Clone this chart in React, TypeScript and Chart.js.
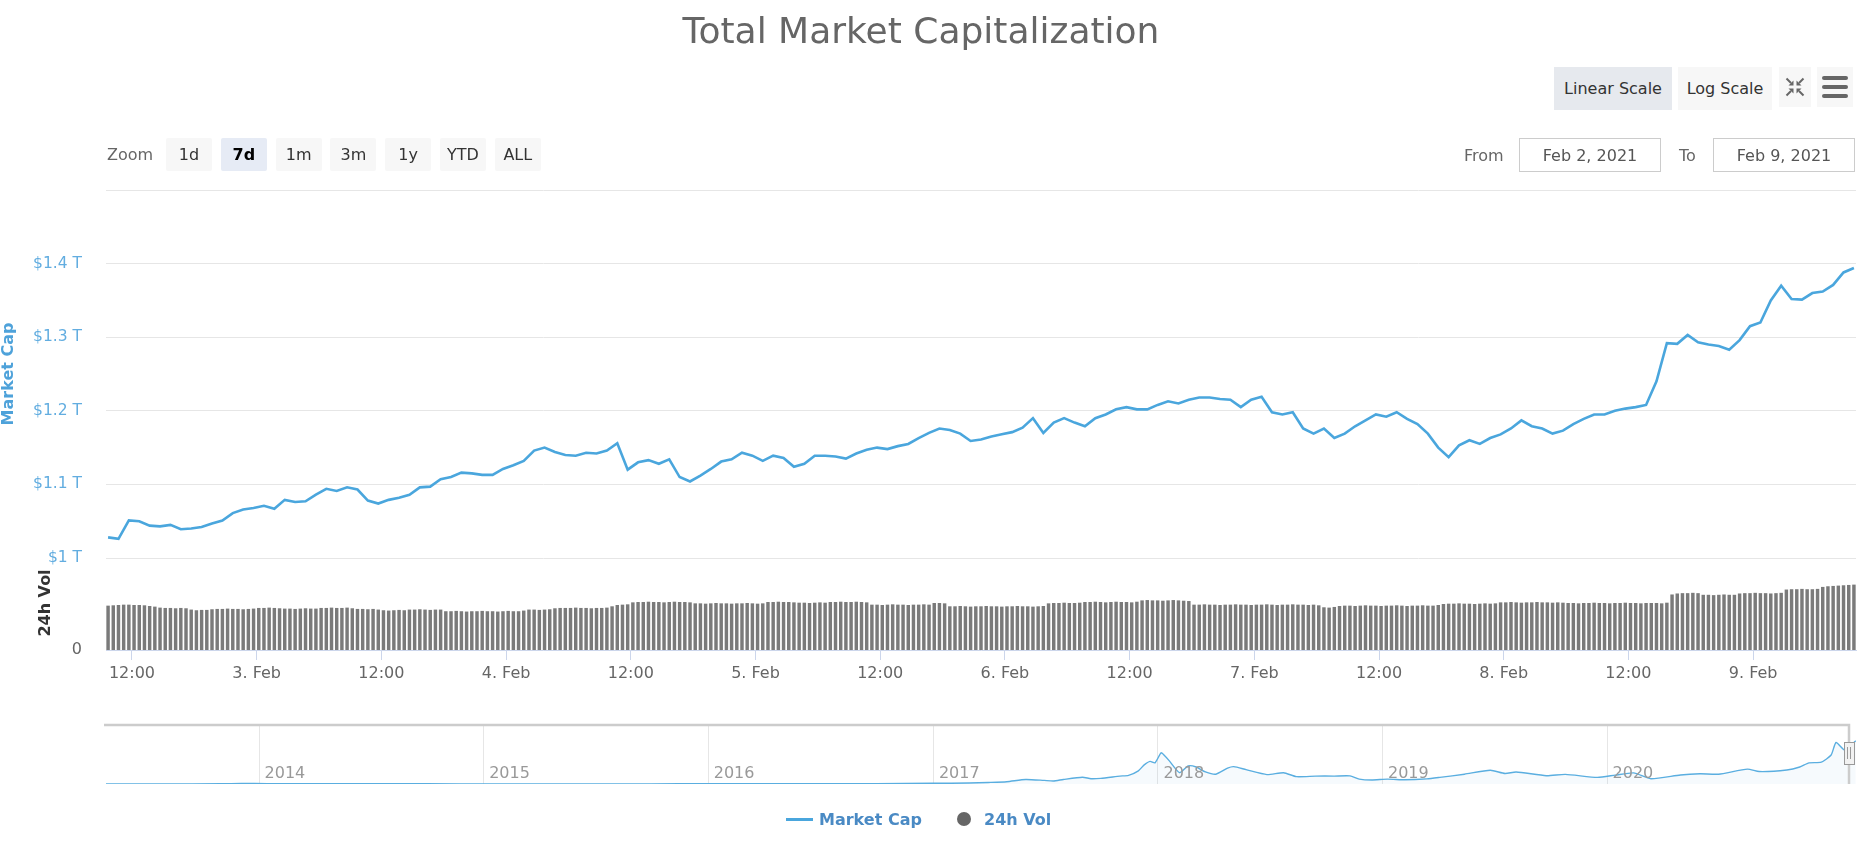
import React, { useEffect, useRef } from "react";
import { Chart, registerables } from "chart.js";

Chart.register(...registerables);

const FONT = "'DejaVu Sans', Verdana, 'Liberation Sans', sans-serif";
const LINE_COLOR = "#4aa6dd";

// x values are hours after 2 Feb 2021 00:00
const marketCapStartHour = 9.7;
const marketCapStepHours = 1;
const marketCapT = [
  1.028, 1.026, 1.051, 1.05, 1.044, 1.043, 1.045, 1.039, 1.04, 1.042,
  1.047, 1.051, 1.061, 1.066, 1.068, 1.071, 1.067, 1.079, 1.076, 1.077,
  1.086, 1.094, 1.091, 1.096, 1.093, 1.078, 1.074, 1.079, 1.082, 1.086,
  1.096, 1.097, 1.107, 1.11, 1.116, 1.115, 1.113, 1.113, 1.121, 1.126,
  1.132,
  1.146, 1.15, 1.144, 1.14, 1.139, 1.143, 1.142, 1.146, 1.156, 1.12,
  1.13, 1.133, 1.128, 1.134, 1.11, 1.104, 1.112, 1.121, 1.131, 1.134,
  1.143, 1.139, 1.132, 1.139, 1.136, 1.124, 1.128, 1.139, 1.139, 1.138,
  1.135, 1.142, 1.147, 1.15, 1.148, 1.152, 1.155, 1.163, 1.17, 1.176,
  1.174, 1.169, 1.159, 1.161, 1.165, 1.168, 1.171, 1.177, 1.19, 1.17,
  1.184, 1.19, 1.184, 1.179, 1.19, 1.195, 1.202, 1.205, 1.202, 1.202,
  1.208, 1.213, 1.21, 1.215, 1.218, 1.218, 1.216, 1.215, 1.205, 1.215,
  1.219, 1.198, 1.195, 1.198, 1.176, 1.169, 1.176, 1.163, 1.169, 1.179,
  1.187, 1.195, 1.192, 1.198, 1.189, 1.182, 1.169, 1.15, 1.137, 1.153,
  1.16, 1.155, 1.163, 1.168, 1.176, 1.187, 1.179, 1.176, 1.169, 1.173,
  1.182, 1.189, 1.195, 1.195, 1.2, 1.203, 1.205, 1.208, 1.24,
  1.292, 1.291, 1.303, 1.293, 1.29, 1.288, 1.283, 1.296, 1.315, 1.32,
  1.35, 1.37, 1.352, 1.351, 1.36, 1.362, 1.371, 1.388, 1.394,
];

const volumeStartHour = 9.7;
const volumeStepHours = 0.5;
// 24h volume, billions of USD
const volume24hB = [
  134, 135, 136, 137, 137, 136, 136, 135, 133, 131,
  128, 127, 127, 126, 127, 126,
  122, 120, 121, 121,
  123, 124, 124, 125, 124, 124, 123, 124, 125,
  127, 127, 128, 127, 126,
  125, 125, 124, 125, 126, 125, 125,
  127, 127, 128, 127, 127, 128, 126,
  124, 124, 123, 124, 122,
  120, 119, 120, 121, 120,
  122, 122, 123, 122, 121, 122, 122,
  117, 117, 118, 117, 116, 117, 117, 118, 117, 117, 116, 117, 118, 117, 117, 119,
  122, 122, 121, 122, 123,
  126, 127, 127, 127, 128, 127, 127, 126, 127, 127, 128,
  132, 136, 137, 138,
  144, 145, 145, 146, 145, 145, 144, 145, 146, 145, 145, 144,
  141, 141, 140, 141, 142, 141, 141, 140, 141, 141, 142, 141, 140, 141,
  145, 145, 146, 145, 145, 144,
  143, 143, 142, 143, 144, 143,
  145, 145, 146, 145, 145, 146, 145, 144,
  137, 137, 136, 137, 138, 137, 137, 136, 137, 137, 138, 137,
  142, 142, 141,
  132, 132, 133, 132, 131, 132, 132, 133, 132, 132, 131, 132, 132, 133, 132, 132, 131, 132, 133,
  141, 142, 142, 143, 142, 142, 143,
  145, 145, 146, 145, 144, 145, 146, 145, 145, 144, 146,
  150, 151, 150, 150, 149, 150, 151, 150, 149, 148,
  137, 137, 138, 137, 137, 136, 137, 137, 138, 137, 137, 136, 137, 137, 138, 137, 136, 137, 137, 138, 137, 137, 136, 137, 135,
  129, 128, 130,
  133, 134, 134, 133, 134, 135, 134, 134, 133, 134, 134, 135, 134, 133, 134, 134, 135, 134, 134, 136,
  139, 140, 140, 141, 140, 140, 139, 140, 141, 140, 141,
  144, 144, 145, 144, 143, 144, 144, 145, 144, 144, 143, 144, 143,
  142, 142, 141, 142, 142, 143, 142, 142, 141, 142, 142, 143, 142, 142, 141, 142, 142, 142, 141, 143,
  168, 171, 172, 172, 173, 172,
  167, 167, 166, 167, 168, 167, 167,
  171, 172, 172, 173, 172, 172, 171, 172, 173,
  183, 184, 184, 185, 184, 184, 185,
  191, 193, 194, 195, 196, 197, 198,
];

const xMinHour = 9.5;
const xMaxHour = 177.9;
const xTickHours = [12, 24, 36, 48, 60, 72, 84, 96, 108, 120, 132, 144, 156, 168];
const xTickLabels = [
  "12:00", "3. Feb", "12:00", "4. Feb", "12:00", "5. Feb", "12:00",
  "6. Feb", "12:00", "7. Feb", "12:00", "8. Feb", "12:00", "9. Feb",
];

const yTickValues = [1.0, 1.1, 1.2, 1.3, 1.4, 1.5];
const yTickLabels = ["$1 T", "$1.1 T", "$1.2 T", "$1.3 T", "$1.4 T", ""];

// navigator: full history, billions of USD
const navDates = [
  "2013-04-28", "2013-08-01", "2013-11-01", "2013-12-04", "2014-01-15", "2014-04-01",
  "2014-07-01", "2014-10-01", "2015-01-15", "2015-04-01", "2015-07-01", "2015-10-01",
  "2016-01-01", "2016-04-01", "2016-06-15", "2016-10-01", "2017-01-01", "2017-03-01",
  "2017-04-01", "2017-05-01", "2017-06-01", "2017-07-01", "2017-07-16", "2017-08-01",
  "2017-09-01", "2017-09-15", "2017-10-01", "2017-11-01", "2017-11-15", "2017-12-01",
  "2017-12-10", "2017-12-20", "2017-12-28", "2018-01-07", "2018-01-12", "2018-01-20",
  "2018-02-06", "2018-02-20", "2018-03-05", "2018-03-20", "2018-04-06", "2018-04-25",
  "2018-05-05", "2018-05-25", "2018-06-28", "2018-07-25", "2018-08-15", "2018-09-15",
  "2018-10-15", "2018-11-10", "2018-11-25", "2018-12-15", "2019-01-10", "2019-02-07",
  "2019-03-15", "2019-04-05", "2019-05-15", "2019-06-26", "2019-07-20", "2019-08-07",
  "2019-09-25", "2019-10-26", "2019-12-17", "2020-01-15", "2020-02-14", "2020-03-13",
  "2020-04-30", "2020-06-01", "2020-07-01", "2020-08-17", "2020-09-05", "2020-10-20",
  "2020-11-10", "2020-11-25", "2020-12-15", "2020-12-31", "2021-01-08", "2021-01-22",
  "2021-02-02", "2021-02-09",
];
const navMarketCapB = [
  1.5, 1.5, 5, 14, 11, 6,
  8, 5, 3.5, 3.3, 4.5, 4,
  6.5, 7.5, 11, 10, 18, 25,
  40, 60, 120, 95, 80, 120,
  180, 140, 150, 210, 230, 350,
  500, 600, 560, 830, 760, 620,
  300, 480, 450, 320, 260, 420,
  460, 380, 250, 300, 195, 210,
  210, 215, 130, 105, 130, 112,
  135, 175, 260, 365, 280, 320,
  220, 255, 175, 235, 295, 140,
  240, 270, 260, 395, 330, 370,
  450, 560, 580, 770, 1100, 900,
  1030, 1150,
];
const navYears = [2014, 2015, 2016, 2017, 2018, 2019, 2020];

const zoomButtons = ["1d", "7d", "1m", "3m", "1y", "YTD", "ALL"];
const selectedZoom = "7d";
const fromDate = "Feb 2, 2021";
const toDate = "Feb 9, 2021";

const mainDecor = {
  id: "mainDecor",
  afterDraw(chart: any) {
    const ctx = chart.ctx;
    const y = chart.scales.y;
    const y2 = chart.scales.y2;
    ctx.save();
    ctx.textAlign = "center";
    ctx.textBaseline = "middle";
    ctx.font = `bold 16px ${FONT}`;
    ctx.fillStyle = "#4ea2da";
    const mcCenter = (y.getPixelForValue(1.0) + y.getPixelForValue(1.5)) / 2;
    ctx.save();
    ctx.translate(9, mcCenter);
    ctx.rotate(-Math.PI / 2);
    ctx.fillText("Market Cap", 0, 0);
    ctx.restore();
    ctx.fillStyle = "#333333";
    ctx.save();
    ctx.translate(46, 603);
    ctx.rotate(-Math.PI / 2);
    ctx.fillText("24h Vol", 0, 0);
    ctx.restore();
    ctx.font = `16px ${FONT}`;
    ctx.fillStyle = "#666666";
    ctx.textAlign = "right";
    ctx.fillText("0", 82, y2.getPixelForValue(0));
    ctx.restore();
  },
};

const navDecor = {
  id: "navDecor",
  beforeDatasetsDraw(chart: any) {
    const ctx = chart.ctx;
    const x = chart.scales.x;
    const { top, bottom } = chart.chartArea;
    ctx.save();
    ctx.strokeStyle = "#e6e6e6";
    ctx.lineWidth = 1;
    navYears.forEach((yr) => {
      const px = Math.round(x.getPixelForValue(Date.UTC(yr, 0, 1))) + 0.5;
      ctx.beginPath();
      ctx.moveTo(px, top);
      ctx.lineTo(px, bottom);
      ctx.stroke();
    });
    ctx.restore();
  },
  afterDatasetsDraw(chart: any) {
    const ctx = chart.ctx;
    const x = chart.scales.x;
    const { top, bottom, left, right } = chart.chartArea;
    ctx.save();
    ctx.font = `16px ${FONT}`;
    ctx.fillStyle = "#999999";
    ctx.textAlign = "left";
    ctx.textBaseline = "alphabetic";
    navYears.forEach((yr) => {
      const px = x.getPixelForValue(Date.UTC(yr, 0, 1));
      ctx.fillText(String(yr), px + 6, bottom - 6);
    });
    const hx = right - 7;
    ctx.strokeStyle = "#cccccc";
    ctx.lineWidth = 2.5;
    ctx.beginPath();
    ctx.moveTo(left - 2, top);
    ctx.lineTo(hx, top);
    ctx.lineTo(hx, bottom);
    ctx.stroke();
    ctx.fillStyle = "#f2f2f2";
    ctx.strokeStyle = "#999999";
    ctx.lineWidth = 1;
    ctx.fillRect(hx - 5, top + 17, 10, 22);
    ctx.strokeRect(hx - 5 + 0.5, top + 17 + 0.5, 10, 22);
    ctx.beginPath();
    ctx.moveTo(hx - 1.5, top + 22);
    ctx.lineTo(hx - 1.5, top + 34);
    ctx.moveTo(hx + 1.5, top + 22);
    ctx.lineTo(hx + 1.5, top + 34);
    ctx.stroke();
    ctx.restore();
  },
};

const box = (extra: React.CSSProperties): React.CSSProperties => ({
  position: "absolute",
  display: "flex",
  alignItems: "center",
  justifyContent: "center",
  boxSizing: "border-box",
  fontSize: 16,
  color: "#333",
  whiteSpace: "nowrap",
  ...extra,
});

export default function App() {
  const mainRef = useRef<HTMLCanvasElement>(null);
  const navRef = useRef<HTMLCanvasElement>(null);

  useEffect(() => {
    const lineData = marketCapT.map((v, i) => ({ x: marketCapStartHour + i * marketCapStepHours, y: v }));
    const volData = volume24hB.map((v, i) => ({ x: volumeStartHour + i * volumeStepHours, y: v }));

    const main = new Chart(mainRef.current as HTMLCanvasElement, {
      type: "line",
      data: {
        datasets: [
          {
            type: "line",
            label: "Market Cap",
            data: lineData,
            yAxisID: "y",
            borderColor: LINE_COLOR,
            borderWidth: 2.6,
            pointRadius: 0,
            tension: 0,
            order: 0,
          } as any,
          {
            type: "bar",
            label: "24h Vol",
            data: volData,
            yAxisID: "y2",
            backgroundColor: "#7a7a7a",
            barThickness: 2.8,
            order: 1,
          } as any,
        ],
      },
      options: {
        responsive: false,
        animation: false,
        devicePixelRatio: 1,
        layout: { padding: { top: 190, right: 1, bottom: 154, left: 0 } },
        plugins: { legend: { display: false }, tooltip: { enabled: false } },
        scales: {
          x: {
            type: "linear",
            min: xMinHour,
            max: xMaxHour,
            offset: false,
            bounds: "data",
            afterBuildTicks: (s: any) => {
              s.ticks = xTickHours.map((v) => ({ value: v }));
            },
            afterFit: (s: any) => {
              s.height = 40;
            },
            ticks: {
              autoSkip: false,
              maxRotation: 0,
              color: "#666666",
              font: { family: FONT, size: 16 },
              padding: 4,
              callback: (_v: any, i: number) => xTickLabels[i],
            },
            grid: { drawOnChartArea: false, drawTicks: true, tickLength: 10, color: "#ccd6eb", offset: false },
            border: { display: true, color: "#ccd6eb" },
          },
          y: {
            type: "linear",
            position: "left",
            min: 0.875,
            max: 1.5,
            bounds: "data",
            afterBuildTicks: (s: any) => {
              s.ticks = yTickValues.map((v) => ({ value: v }));
            },
            afterFit: (s: any) => {
              s.width = 106;
            },
            ticks: {
              color: "#62ade0",
              font: { family: FONT, size: 15.5 },
              padding: 24,
              callback: (_v: any, i: number) => yTickLabels[i],
            },
            grid: { color: "#e6e6e6", drawTicks: false },
            border: { display: false },
          },
          y2: { type: "linear", display: false, min: 0, max: 1400 },
        },
      } as any,
      plugins: [mainDecor],
    });

    const navData = navDates.map((d, i) => ({ x: Date.parse(d + "T00:00:00Z"), y: navMarketCapB[i] }));
    const nav = new Chart(navRef.current as HTMLCanvasElement, {
      type: "line",
      data: {
        datasets: [
          {
            data: navData,
            borderColor: "#5aaee0",
            borderWidth: 1.4,
            pointRadius: 0,
            tension: 0.2,
            fill: true,
            backgroundColor: "rgba(74,166,221,0.05)",
          } as any,
        ],
      },
      options: {
        responsive: false,
        animation: false,
        devicePixelRatio: 1,
        layout: { padding: { top: 10, right: 1, bottom: 11, left: 106 } },
        plugins: { legend: { display: false }, tooltip: { enabled: false } },
        scales: {
          x: { type: "linear", display: false, min: Date.UTC(2013, 3, 28), max: Date.UTC(2021, 1, 9, 10) },
          y: { type: "linear", display: false, min: 0, max: 1565 },
        },
      } as any,
      plugins: [navDecor],
    });

    return () => {
      main.destroy();
      nav.destroy();
    };
  }, []);

  return (
    <div
      style={{
        position: "absolute",
        left: 0,
        top: 0,
        width: 1857,
        height: 844,
        background: "#ffffff",
        overflow: "hidden",
        fontFamily: FONT,
      }}
    >
      <canvas
        ref={mainRef}
        width={1857}
        height={844}
        style={{ position: "absolute", left: 0, top: 0, width: 1857, height: 844 }}
      />
      <canvas
        ref={navRef}
        width={1857}
        height={80}
        style={{ position: "absolute", left: 0, top: 715, width: 1857, height: 80 }}
      />

      <div
        style={{
          position: "absolute",
          top: 13,
          left: 0,
          width: 1842,
          textAlign: "center",
          fontSize: 36,
          lineHeight: "36px",
          color: "#666666",
        }}
      >
        Total Market Capitalization
      </div>

      <div style={box({ left: 1554, top: 67, width: 118, height: 43, background: "#e6e9ee" })}>Linear Scale</div>
      <div style={box({ left: 1678, top: 67, width: 94, height: 43, background: "#f7f7f7" })}>Log Scale</div>
      <div style={box({ left: 1779, top: 67, width: 32, height: 40, background: "#f7f7f7" })}>
        <svg width="20" height="20" viewBox="0 0 20 20">
          <g stroke="#666" strokeWidth="2" fill="#666">
            <line x1="1.5" y1="1.5" x2="6" y2="6" />
            <line x1="18.5" y1="1.5" x2="14" y2="6" />
            <line x1="1.5" y1="18.5" x2="6" y2="14" />
            <line x1="18.5" y1="18.5" x2="14" y2="14" />
          </g>
          <g fill="#666">
            <polygon points="8.5,8.5 8.5,3.5 3.5,8.5" />
            <polygon points="11.5,8.5 11.5,3.5 16.5,8.5" />
            <polygon points="8.5,11.5 8.5,16.5 3.5,11.5" />
            <polygon points="11.5,11.5 11.5,16.5 16.5,11.5" />
          </g>
        </svg>
      </div>
      <div style={box({ left: 1817, top: 67, width: 36, height: 40, background: "#f7f7f7", flexDirection: "column", gap: 5 })}>
        <div style={{ width: 26, height: 4, borderRadius: 2, background: "#666" }} />
        <div style={{ width: 26, height: 4, borderRadius: 2, background: "#666" }} />
        <div style={{ width: 26, height: 4, borderRadius: 2, background: "#666" }} />
      </div>

      <div style={box({ left: 107, top: 138, height: 33, color: "#666666", justifyContent: "flex-start" })}>Zoom</div>
      {zoomButtons.map((b, i) => {
        const sel = b === selectedZoom;
        return (
          <div
            key={b}
            style={box({
              left: 166 + i * 54.8,
              top: 138,
              width: 46,
              height: 33,
              borderRadius: 2,
              background: sel ? "#e6ebf5" : "#f7f7f7",
              color: sel ? "#000000" : "#333333",
              fontWeight: sel ? "bold" : "normal",
            })}
          >
            {b}
          </div>
        );
      })}

      <div style={box({ left: 1464, top: 138, height: 34, color: "#666666", justifyContent: "flex-start" })}>From</div>
      <div style={box({ left: 1519, top: 138, width: 142, height: 34, border: "1px solid #cccccc", color: "#555555" })}>
        {fromDate}
      </div>
      <div style={box({ left: 1679, top: 138, height: 34, color: "#666666", justifyContent: "flex-start" })}>To</div>
      <div style={box({ left: 1713, top: 138, width: 142, height: 34, border: "1px solid #cccccc", color: "#555555" })}>
        {toDate}
      </div>

      <div style={{ position: "absolute", left: 786, top: 818, width: 27, height: 2.6, background: LINE_COLOR }} />
      <div style={box({ left: 819, top: 808, height: 22, fontWeight: "bold", color: "#4a8ac4", justifyContent: "flex-start" })}>
        Market Cap
      </div>
      <div style={{ position: "absolute", left: 957, top: 812, width: 14, height: 14, borderRadius: 7, background: "#666666" }} />
      <div style={box({ left: 984, top: 808, height: 22, fontWeight: "bold", color: "#4a8ac4", justifyContent: "flex-start" })}>
        24h Vol
      </div>
    </div>
  );
}
